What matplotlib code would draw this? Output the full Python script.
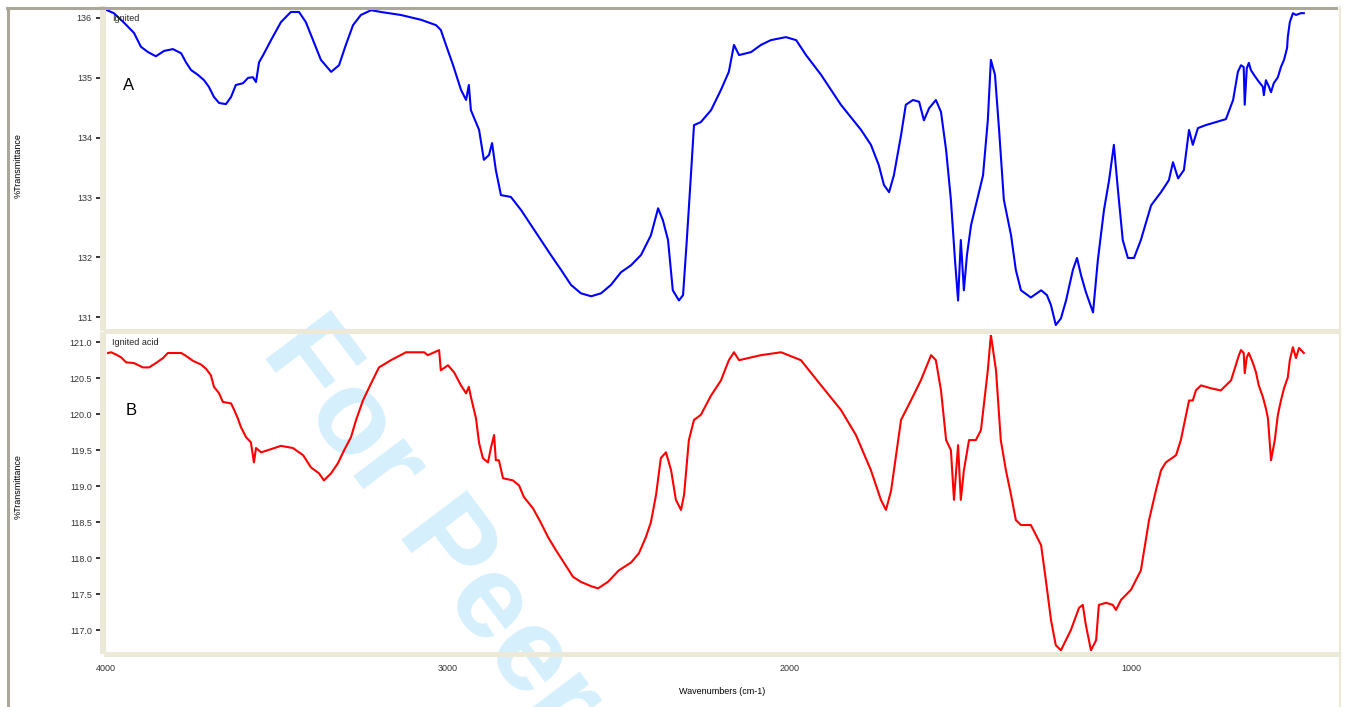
import matplotlib
matplotlib.use("Agg")
import matplotlib.pyplot as plt
from matplotlib.lines import Line2D
from matplotlib.ticker import MultipleLocator, FormatStrFormatter

plt.rcParams['font.family'] = ['Liberation Sans', 'DejaVu Sans']

# ---- spectrum A (blue) ----
wn_a = [3997, 3977, 3947, 3918, 3898, 3877, 3854, 3830, 3804, 3780,
        3766, 3751, 3731, 3713, 3699, 3684, 3669, 3649, 3634, 3620,
        3599, 3584, 3570, 3561, 3552, 3540, 3517, 3488, 3459, 3435,
        3415, 3394, 3371, 3341, 3318, 3298, 3277, 3254, 3224, 3195,
        3137, 3078, 3034, 3020, 3005, 2984, 2961, 2946, 2938, 2932,
        2908, 2894, 2879, 2870, 2859, 2844, 2815, 2785, 2756, 2727,
        2698, 2668, 2639, 2610, 2580, 2551, 2522, 2493, 2463, 2434,
        2405, 2384, 2370, 2355, 2341, 2323, 2311, 2300, 2288, 2279,
        2259, 2229, 2200, 2177, 2162, 2147, 2112, 2083, 2054, 2010,
        1980, 1951, 1907, 1849, 1790, 1761, 1738, 1723, 1708, 1694,
        1673, 1659, 1638, 1620, 1606, 1591, 1571, 1556, 1541, 1527,
        1515, 1506, 1498, 1489, 1480, 1468, 1454, 1433, 1419, 1410,
        1398, 1386, 1372, 1351, 1337, 1322, 1293, 1263, 1246, 1234,
        1220, 1205, 1190, 1170, 1158, 1146, 1132, 1111, 1097, 1079,
        1064, 1050, 1038, 1024, 1009, 991, 971, 941, 912, 889,
        877, 862, 845, 830, 819, 804, 781, 751, 722, 701,
        687, 678, 670, 667, 661, 655, 649, 640, 629, 614,
        611, 605, 596, 590, 582, 570, 561, 552, 543, 541,
        535, 526, 517, 503, 494]
t_a = [136.13, 136.08, 135.92, 135.75, 135.52, 135.43, 135.36, 135.45, 135.48, 135.41,
       135.26, 135.13, 135.05, 134.96, 134.85, 134.68, 134.58, 134.56, 134.68, 134.88,
       134.91, 135.00, 135.01, 134.93, 135.26, 135.38, 135.63, 135.93, 136.10, 136.10,
       135.93, 135.63, 135.30, 135.10, 135.21, 135.55, 135.88, 136.05, 136.13, 136.10,
       136.05, 135.97, 135.88, 135.80, 135.55, 135.21, 134.80, 134.63, 134.88, 134.46,
       134.13, 133.63, 133.71, 133.91, 133.46, 133.04, 133.01, 132.79, 132.54, 132.29,
       132.04, 131.79, 131.54, 131.40, 131.35, 131.40, 131.54, 131.75, 131.87, 132.04,
       132.37, 132.82, 132.62, 132.29, 131.45, 131.28, 131.37, 132.29, 133.37, 134.21,
       134.26, 134.46, 134.80, 135.10, 135.55, 135.38, 135.43, 135.55, 135.63, 135.68,
       135.63, 135.38, 135.05, 134.55, 134.13, 133.88, 133.54, 133.21, 133.09, 133.37,
       134.04, 134.55, 134.63, 134.60, 134.29, 134.49, 134.63, 134.43, 133.79, 132.96,
       131.95, 131.28, 132.29, 131.45, 132.04, 132.54, 132.87, 133.37, 134.29, 135.30,
       135.05, 134.13, 132.96, 132.37, 131.79, 131.45, 131.33, 131.45, 131.37, 131.20,
       130.87, 130.98, 131.28, 131.79, 131.99, 131.70, 131.42, 131.08, 131.95, 132.79,
       133.29, 133.88, 133.12, 132.29, 131.99, 131.99, 132.29, 132.87, 133.09, 133.29,
       133.59, 133.32, 133.46, 134.13, 133.88, 134.16, 134.21, 134.26, 134.31, 134.63,
       135.10, 135.21, 135.18, 134.55, 135.16, 135.25, 135.13, 135.05, 134.96, 134.85,
       134.71, 134.96, 134.85, 134.76, 134.91, 135.01, 135.18, 135.30, 135.50, 135.68,
       135.93, 136.08, 136.05, 136.08, 136.08]

# ---- spectrum B (red) ----
wn_b = [3994, 3985, 3971, 3956, 3941, 3918, 3892, 3874, 3854, 3833,
        3819, 3780, 3766, 3745, 3722, 3707, 3693, 3684, 3669, 3658,
        3634, 3625, 3614, 3605, 3590, 3576, 3567, 3561, 3546, 3526,
        3488, 3453, 3423, 3400, 3377, 3362, 3341, 3321, 3303, 3283,
        3268, 3248, 3224, 3201, 3166, 3122, 3069, 3058, 3025, 3020,
        2999, 2981, 2961, 2946, 2938, 2932, 2917, 2908, 2897, 2882,
        2873, 2864, 2859, 2850, 2838, 2809, 2791, 2777, 2750, 2727,
        2706, 2683, 2660, 2633, 2610, 2580, 2560, 2531, 2499, 2463,
        2440, 2420, 2405, 2390, 2376, 2361, 2346, 2332, 2317, 2308,
        2294, 2279, 2259, 2229, 2200, 2177, 2162, 2147, 2083, 2024,
        1966, 1907, 1849, 1805, 1761, 1732, 1717, 1702, 1673, 1644,
        1615, 1585, 1571, 1556, 1541, 1527, 1518, 1506, 1498, 1489,
        1474, 1454, 1439, 1419, 1410, 1395, 1381, 1366, 1351, 1337,
        1322, 1293, 1263, 1249, 1234, 1220, 1205, 1176, 1152, 1141,
        1132, 1117, 1102, 1094, 1073, 1053, 1044, 1029, 1000, 971,
        947, 927, 912, 898, 868, 854, 830, 819, 810, 795,
        766, 737, 707, 684, 678, 670, 667, 661, 655, 643,
        634, 626, 614, 605, 599, 590, 579, 570, 561, 552,
        541, 535, 526, 517, 508, 494]
t_b = [120.85, 120.86, 120.83, 120.79, 120.72, 120.71, 120.65, 120.65, 120.71, 120.78,
       120.85, 120.85, 120.81, 120.74, 120.69, 120.63, 120.54, 120.38, 120.29, 120.17,
       120.15, 120.06, 119.94, 119.82, 119.68, 119.61, 119.33, 119.53, 119.47, 119.50,
       119.56, 119.53, 119.43, 119.26, 119.18, 119.08, 119.18, 119.32, 119.50, 119.68,
       119.92, 120.19, 120.43, 120.65, 120.75, 120.86, 120.86, 120.82, 120.89, 120.61,
       120.68, 120.58, 120.40, 120.29, 120.38, 120.24, 119.94, 119.60, 119.39, 119.33,
       119.54, 119.71, 119.36, 119.36, 119.11, 119.08, 119.01, 118.85, 118.69, 118.49,
       118.29, 118.11, 117.94, 117.74, 117.67, 117.61, 117.58, 117.67, 117.83, 117.94,
       118.07, 118.29, 118.50, 118.88, 119.39, 119.47, 119.22, 118.81, 118.67, 118.88,
       119.64, 119.92, 119.99, 120.26, 120.47, 120.75, 120.86, 120.75, 120.82, 120.86,
       120.75, 120.40, 120.06, 119.71, 119.22, 118.81, 118.67, 118.94, 119.92, 120.19,
       120.47, 120.82, 120.75, 120.33, 119.64, 119.50, 118.81, 119.57, 118.81, 119.22,
       119.64, 119.64, 119.78, 120.61, 121.10, 120.61, 119.64, 119.22, 118.88, 118.53,
       118.46, 118.46, 118.18, 117.69, 117.14, 116.79, 116.72, 117.00, 117.31, 117.35,
       117.07, 116.72, 116.86, 117.35, 117.38, 117.35, 117.28, 117.42, 117.56, 117.83,
       118.53, 118.94, 119.22, 119.33, 119.43, 119.64, 120.19, 120.19, 120.33, 120.40,
       120.36, 120.33, 120.47, 120.82, 120.89, 120.85, 120.57, 120.79, 120.85, 120.71,
       120.58, 120.40, 120.24, 120.08, 119.94, 119.36, 119.64, 119.99, 120.19, 120.36,
       120.51, 120.75, 120.93, 120.78, 120.92, 120.85]

x_ticks = [4000, 3000, 2000, 1000]
y_ticks_a = [136, 135, 134, 133, 132, 131]
y_ticks_b = [121.0, 120.5, 120.0, 119.5, 119.0, 118.5, 118.0, 117.5, 117.0]

BEIGE = '#ECE9D8'
GREY = '#ACA899'
W, H = 1347, 707

fig = plt.figure(figsize=(W / 100, H / 100), dpi=100)
fig.patch.set_facecolor('white')


def px_box(x0, y0, x1, y1):
    # pixel box (top-left origin) -> figure rect
    return [x0 / W, 1 - y1 / H, (x1 - x0) / W, (y1 - y0) / H]


ax_a = fig.add_axes(px_box(106, 9, 1338, 328))
ax_b = fig.add_axes(px_box(106, 335, 1338, 651))

for ax in (ax_a, ax_b):
    ax.set_facecolor('none')
    ax.set_xlim(4000, 394)
    ax.spines['top'].set_visible(False)
    ax.spines['right'].set_visible(False)
    ax.spines['left'].set_color(BEIGE)
    ax.spines['left'].set_linewidth(4.3)
    ax.spines['left'].set_position(('outward', 2.2))
    ax.spines['bottom'].set_color(BEIGE)
    ax.spines['bottom'].set_linewidth(3.6)
    ax.spines['bottom'].set_position(('outward', 2.0))
    ax.set_xticks(x_ticks)
    ax.xaxis.set_minor_locator(MultipleLocator(250))
    ax.tick_params(axis='y', which='major', direction='out', length=5,
                   width=1.1, color='black', labelsize=6.5, pad=3,
                   labelcolor='#333333')
    ax.tick_params(axis='y', which='minor', direction='inout', length=2.2,
                   width=1.0, color='black')
    ax.tick_params(axis='x', which='both', direction='inout', length=2.6,
                   width=1.0, color='black', labelsize=6.5, pad=6,
                   labelcolor='#333333')

ax_a.plot(wn_a, t_a, color='#0000FF', lw=1.5)
ax_a.set_ylim(130.82, 136.15)
ax_a.set_yticks(y_ticks_a)
ax_a.yaxis.set_minor_locator(MultipleLocator(0.25))
ax_a.yaxis.set_major_formatter(FormatStrFormatter('%d'))
ax_a.tick_params(axis='x', which='both', length=0, labelbottom=False)
ax_a.set_ylabel('%Transmittance', fontsize=6.5)
ax_a.yaxis.set_label_coords(-0.0674, 0.51)
ax_a.text(0.005, 0.985, 'Ignited', transform=ax_a.transAxes,
          fontsize=6.5, va='top', ha='left', color='#222222')
ax_a.text(0.014, 0.76, 'A', transform=ax_a.transAxes, fontsize=12,
          va='center', ha='left')

ax_b.plot(wn_b, t_b, color='#FF0000', lw=1.5)
ax_b.set_ylim(116.71, 121.10)
ax_b.set_yticks(y_ticks_b)
ax_b.yaxis.set_minor_locator(MultipleLocator(0.125))
ax_b.yaxis.set_major_formatter(FormatStrFormatter('%.1f'))
ax_b.set_ylabel('%Transmittance', fontsize=6.5)
ax_b.yaxis.set_label_coords(-0.0674, 0.52)
ax_b.set_xlabel('Wavenumbers (cm-1)', fontsize=6.5, labelpad=10)
ax_b.xaxis.set_major_formatter(FormatStrFormatter('%d'))
ax_b.text(0.005, 0.99, 'Ignited acid', transform=ax_b.transAxes,
          fontsize=6.5, va='top', ha='left', color='#222222')
ax_b.text(0.016, 0.76, 'B', transform=ax_b.transAxes, fontsize=12,
          va='center', ha='left')

# window frame
fig.add_artist(Line2D([7 / W, 1336 / W], [1 - 8 / H, 1 - 8 / H],
                      color=GREY, lw=2.2))
fig.add_artist(Line2D([8 / W, 8 / W], [0, 1 - 8 / H], color=GREY, lw=2.2))
fig.add_artist(Line2D([1340 / W, 1340 / W], [0, 1 - 7 / H], color=BEIGE,
                      lw=1.6))

# watermark behind the plots
fig.text(260 / W, 1 - 352 / H, 'For Peer Review', rotation=-53,
         rotation_mode='anchor', ha='left', va='baseline', fontsize=86,
         fontweight='bold', color='#D5EFFC', zorder=-5)

fig.savefig('out.png', dpi=100)
